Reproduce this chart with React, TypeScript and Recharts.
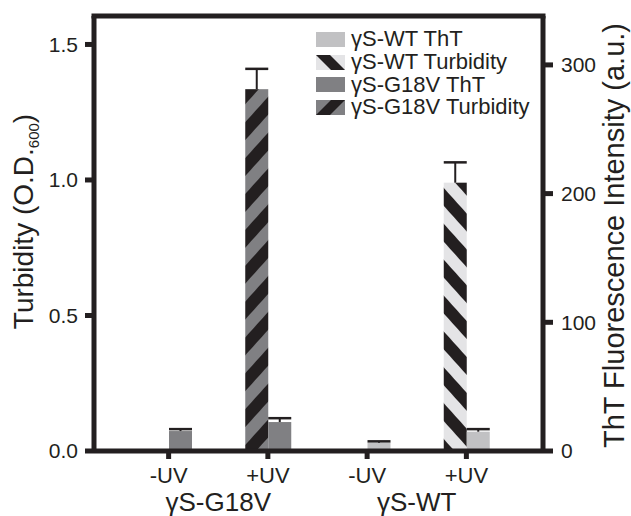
import React from 'react';
import {
  ComposedChart, Bar, Cell, XAxis, YAxis, ReferenceLine, Legend, Label,
} from 'recharts';

const categories = ['-UV', '+UV', '-UV', '+UV'];
const groups = ['γS-G18V', 'γS-G18V', 'γS-WT', 'γS-WT'];
const turbidity = [0, 1.335, 0, 0.99];
const turbidityErr = [0, 0.075, 0, 0.075];
const tht = [15.5, 22.5, 6.5, 15];
const thtErr = [1.5, 3, 1, 2];

const turbTicks = [0, 0.5, 1, 1.5];
const thtTicks = [0, 100, 200, 300];

const INK = '#231f20';
const G18V_GRAY = '#808083';
const WT_GRAY = '#c1c1c3';
const WT_LIGHT = '#e4e4e6';

const turbFill = ['url(#g18vStripe)', 'url(#g18vStripe)', 'url(#wtStripe)', 'url(#wtStripe)'];
const thtFill = [G18V_GRAY, G18V_GRAY, WT_GRAY, WT_GRAY];

const data = categories.map((c, i) => ({
  cat: c,
  group: groups[i],
  turb: turbidity[i],
  turbErr: turbidityErr[i],
  tht: tht[i],
  thtErr: thtErr[i],
}));

const legendItems = [
  { label: 'γS-WT ThT', kind: 'wtTht' },
  { label: 'γS-WT Turbidity', kind: 'wtTurb' },
  { label: 'γS-G18V ThT', kind: 'g18vTht' },
  { label: 'γS-G18V Turbidity', kind: 'g18vTurb' },
];

// bar + one-sided (upper) error bar, error length scaled from the bar's own px/unit
const barWithError = (errKey: string) => (props: any) => {
  const { x, y, width, height, fill, payload, value } = props;
  const v = Array.isArray(value) ? value[1] - value[0] : value;
  if (!v || !height) return <g />;
  const e = (payload[errKey] * height) / v;
  const cx = x + width / 2;
  return (
    <g>
      <rect x={x} y={y} width={width} height={height} fill={fill} />
      {e > 0 && (
        <g stroke={INK}>
          <line x1={cx} x2={cx} y1={y} y2={y - e} strokeWidth={2} />
          <line x1={x} x2={x + width} y1={y - e} y2={y - e} strokeWidth={2.5} />
        </g>
      )}
    </g>
  );
};

function Swatch({ kind }: { kind: string }) {
  return (
    <svg width={29} height={15} style={{ display: 'block' }}>
      {kind === 'wtTht' && <rect width={29} height={15} fill={WT_GRAY} />}
      {kind === 'g18vTht' && <rect width={29} height={15} fill={G18V_GRAY} />}
      {kind === 'wtTurb' && (
        <g>
          <rect width={29} height={15} fill={WT_LIGHT} />
          <polygon points="0,0 14,0 29,15 15,15" fill={INK} />
        </g>
      )}
      {kind === 'g18vTurb' && (
        <g>
          <rect width={29} height={15} fill={G18V_GRAY} />
          <polygon points="0,15 14,15 29,0 15,0" fill={INK} />
        </g>
      )}
    </svg>
  );
}

const renderLegend = () => (
  <div style={{ fontSize: 22, color: INK }}>
    {legendItems.map((it) => (
      <div key={it.kind} style={{ display: 'flex', alignItems: 'center', height: 22.7 }}>
        <Swatch kind={it.kind} />
        <span style={{ marginLeft: 6, lineHeight: '22px' }}>{it.label}</span>
      </div>
    ))}
  </div>
);

const CatTick = (props: any) => (
  <text x={props.x} y={props.y} dy={22} textAnchor="middle" fontSize={22} fill={INK}>
    {props.payload.value}
  </text>
);

const GroupTick = (props: any) => (
  <text x={props.x} y={props.y} dy={28} textAnchor="middle" fontSize={26} fill={INK}>
    {props.payload.value}
  </text>
);

const LeftLabel = (props: any) => {
  const vb = props.viewBox;
  const cx = vb.x + 33;
  const cy = vb.y + vb.height / 2 - 12;
  return (
    <text x={cx} y={cy} transform={`rotate(-90 ${cx} ${cy})`} textAnchor="middle" fontSize={28} fill={INK}>
      <tspan>Turbidity (O.D.</tspan>
      <tspan fontSize={15} dy={6}>600</tspan>
      <tspan dy={-6}>)</tspan>
    </text>
  );
};

const RightLabel = (props: any) => {
  const vb = props.viewBox;
  const cx = vb.x + vb.width - 7;
  const cy = vb.y + vb.height / 2 + 2;
  return (
    <text x={cx} y={cy} transform={`rotate(-90 ${cx} ${cy})`} textAnchor="middle" fontSize={29} fill={INK}>
      ThT Fluorescence Intensity (a.u.)
    </text>
  );
};

export default function App() {
  return (
    <div style={{ position: 'absolute', left: 0, top: 0, fontFamily: '"Liberation Sans", Arial, sans-serif', background: '#fff' }}>
      <ComposedChart
        width={631}
        height={516}
        data={data}
        margin={{ top: 16, right: 0, bottom: 0, left: 0 }}
        barSize={23}
        barGap={0}
      >
        <defs>
          <pattern id="g18vStripe" patternUnits="userSpaceOnUse" width={24} height={24} patternTransform="rotate(42)">
            <rect width={24} height={24} fill={G18V_GRAY} />
            <rect width={12} height={24} fill={INK} />
          </pattern>
          <pattern id="wtStripe" patternUnits="userSpaceOnUse" width={24} height={24} patternTransform="rotate(-42)">
            <rect width={24} height={24} fill={WT_LIGHT} />
            <rect width={12} height={24} fill={INK} />
          </pattern>
        </defs>
        <XAxis
          dataKey="cat"
          height={32}
          padding={{ left: 25, right: 27 }}
          axisLine={{ stroke: INK, strokeWidth: 5 }}
          tickLine={{ stroke: INK, strokeWidth: 5 }}
          tickSize={8}
          tick={<CatTick />}
          interval={0}
        />
        <XAxis
          xAxisId="grp"
          dataKey="group"
          allowDuplicatedCategory={false}
          height={33}
          padding={{ left: 25, right: 27 }}
          axisLine={false}
          tickLine={false}
          tickSize={0}
          tickMargin={0}
          tick={<GroupTick />}
          interval={0}
        />
        <YAxis
          yAxisId="left"
          width={94}
          domain={[0, 1.605]}
          ticks={turbTicks}
          tickFormatter={(v: number) => v.toFixed(1)}
          axisLine={{ stroke: INK, strokeWidth: 5 }}
          tickLine={{ stroke: INK, strokeWidth: 5 }}
          tickSize={9}
          tickMargin={7}
          tick={{ fontSize: 21, fill: INK }}
        >
          <Label content={<LeftLabel />} />
        </YAxis>
        <YAxis
          yAxisId="right"
          orientation="right"
          width={88}
          domain={[0, 338]}
          ticks={thtTicks}
          axisLine={{ stroke: INK, strokeWidth: 5 }}
          tickLine={{ stroke: INK, strokeWidth: 5 }}
          tickSize={10}
          tickMargin={8}
          tick={{ fontSize: 21, fill: INK, textAnchor: 'start' }}
        >
          <Label content={<RightLabel />} />
        </YAxis>
        <ReferenceLine yAxisId="left" y={1.605} stroke={INK} strokeWidth={5} strokeLinecap="square" />
        <Legend
          content={renderLegend}
          layout="vertical"
          align="center"
          verticalAlign="middle"
          wrapperStyle={{ left: 316, top: 28, width: 250 }}
        />
        <Bar yAxisId="left" dataKey="turb" isAnimationActive={false} shape={barWithError('turbErr')}>
          {data.map((_, i) => <Cell key={i} fill={turbFill[i]} />)}
        </Bar>
        <Bar yAxisId="right" dataKey="tht" isAnimationActive={false} shape={barWithError('thtErr')}>
          {data.map((_, i) => <Cell key={i} fill={thtFill[i]} />)}
        </Bar>
      </ComposedChart>
    </div>
  );
}
